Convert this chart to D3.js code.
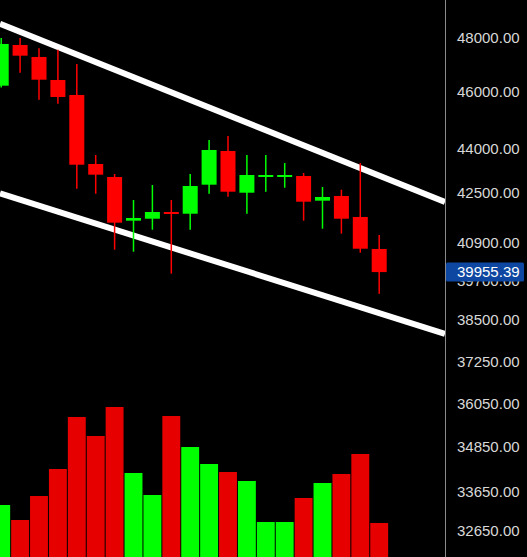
<!DOCTYPE html>
<html>
<head>
<meta charset="utf-8">
<script src="https://cdn.jsdelivr.net/npm/d3@7"></script>
<style>
  html, body { margin: 0; padding: 0; background: #000; }
  svg { display: block; }
</style>
</head>
<body>
<svg id="chart" width="527" height="557"></svg>
<script>
// ---- data ----
const opens  = [46219, 47712, 47267, 46425, 45885, 43476, 43037, 41593, 41657, 41876, 41820, 42779, 43920, 42512, 43037, 43070, 43070, 42248, 42403, 41713, 40683];
const highs  = [47974, 47974, 47589, 47537, 47009, 43783, 43138, 42271, 42769, 42271, 43138, 44299, 44438, 43783, 43783, 43510, 43172, 42702, 42612, 43510, 41130];
const lows   = [46150, 46691, 45716, 45573, 42645, 42479, 40661, 40597, 41301, 39906, 41301, 42479, 42380, 41820, 42545, 42678, 41593, 41333, 41173, 40566, 39287];
const closes = [47750, 47315, 46436, 45813, 43452, 43115, 41528, 41680, 41876, 41820, 42735, 43955, 42545, 43104, 43104, 43104, 42214, 42370, 41657, 40692, 39955.39];
const volumes = [1040, 740, 1220, 1760, 2800, 2420, 3000, 1680, 1240, 2820, 2200, 1860, 1700, 1520, 700, 700, 1180, 1480, 1660, 2060, 680];
const priceTicks = [48000, 46000, 44000, 42500, 40900, 39700, 38500, 37250, 36050, 34850, 33650, 32650];
const lastPrice = 39955.39;
// trend channel anchors: [candle index, price]
const upperTrend = [[-0.0635, 48513], [23.48, 42204]];
const lowerTrend = [[-0.0635, 42492], [23.48, 38070]];

// ---- layout ----
const W = 527, H = 557, axisX = 445;
const svg = d3.select("#chart");
svg.append("rect").attr("width", W).attr("height", H).attr("fill", "#000");

const x = d3.scaleLinear().domain([0, 20]).range([1.2, 379.2]);
const step = x(1) - x(0);
const y = d3.scaleLog().domain([49419, 31982]).range([0, H]);
const yVol = d3.scaleLinear().domain([0, 3000]).range([H, 407]);

const candles = opens.map((o, i) => ({i, o, h: highs[i], l: lows[i], c: closes[i], v: volumes[i], up: closes[i] >= o}));

const plot = svg.append("g");
plot.append("clipPath").attr("id", "clip").append("rect").attr("x", 0).attr("y", 0).attr("width", axisX).attr("height", H);
const g = plot.append("g").attr("clip-path", "url(#clip)");

// volume bars
g.selectAll("rect.vol").data(candles).enter().append("rect")
  .attr("class", "vol")
  .attr("x", d => x(d.i) - step / 2 + 0.5)
  .attr("width", step - 1)
  .attr("y", d => yVol(d.v))
  .attr("height", d => yVol(0) - yVol(d.v))
  .attr("fill", d => d.up ? "#00ff00" : "#e60000");

// trend lines
const line = d3.line().x(d => x(d[0])).y(d => y(d[1]));
[upperTrend, lowerTrend].forEach(t => {
  g.append("path").attr("d", line(t)).attr("stroke", "#fff").attr("stroke-width", 6).attr("fill", "none");
});

// candles
const cg = g.selectAll("g.candle").data(candles).enter().append("g").attr("class", "candle");
cg.append("line")
  .attr("x1", d => x(d.i)).attr("x2", d => x(d.i))
  .attr("y1", d => y(d.h)).attr("y2", d => y(d.l))
  .attr("stroke", d => d.up ? "#00ff00" : "#ff0000")
  .attr("stroke-width", 1.5);
cg.append("rect")
  .attr("x", d => x(d.i) - 7.5)
  .attr("width", 15)
  .attr("y", d => y(Math.max(d.o, d.c)))
  .attr("height", d => Math.max(2, Math.abs(y(d.o) - y(d.c))))
  .attr("fill", d => d.up ? "#00ff00" : "#ff0000");

// axis line
svg.append("line").attr("x1", axisX + 0.5).attr("x2", axisX + 0.5).attr("y1", 0).attr("y2", H)
  .attr("stroke", "#8a8a8a").attr("stroke-width", 1);

// tick labels
svg.selectAll("text.tick").data(priceTicks).enter().append("text")
  .attr("class", "tick")
  .attr("x", 457).attr("y", d => y(d))
  .attr("dy", "0.36em")
  .attr("fill", "#d8d8d8")
  .attr("font-family", "'Liberation Sans', Arial, sans-serif")
  .attr("font-size", 15)
  .text(d => d3.format(".2f")(d));

// last price label
const ly = y(lastPrice);
svg.append("rect").attr("x", axisX + 1).attr("y", ly - 9.5).attr("width", 78).attr("height", 19)
  .attr("rx", 1.5).attr("fill", "#0d47a1");
svg.append("text").attr("x", 457).attr("y", ly).attr("dy", "0.36em")
  .attr("fill", "#ffffff")
  .attr("font-family", "'Liberation Sans', Arial, sans-serif")
  .attr("font-size", 15)
  .text(d3.format(".2f")(lastPrice));
</script>
</body>
</html>
